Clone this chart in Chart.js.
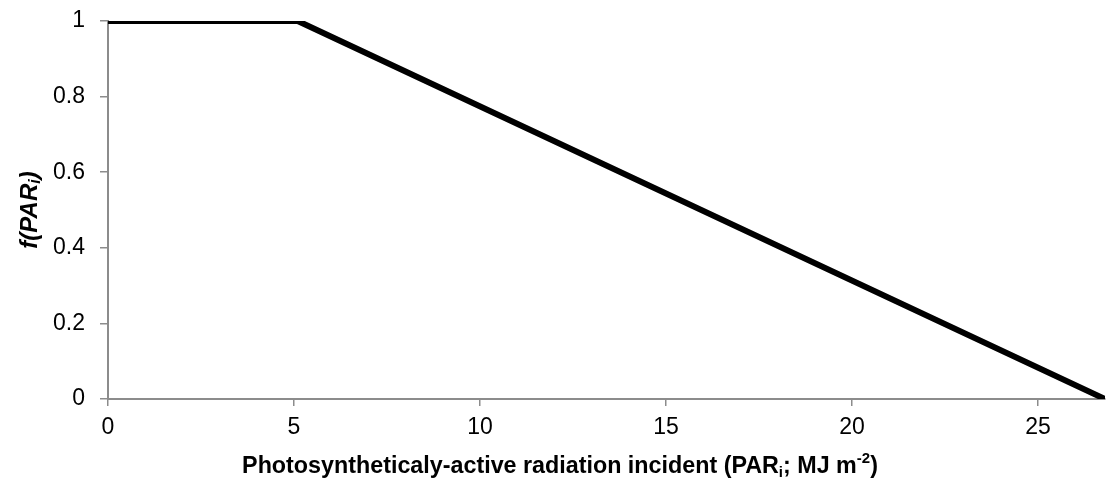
<!DOCTYPE html>
<html lang="en">
<head>
  <meta charset="UTF-8">
  <title>f(PARi) response</title>
  <script src="https://cdn.jsdelivr.net/npm/chart.js"></script>
  <style>
    html, body { margin: 0; padding: 0; background: #fff; }
    #wrap { width: 1108px; height: 488px; }
  </style>
</head>
<body>
  <div id="wrap"><canvas id="parChart" width="1108" height="488"></canvas></div>

  <script>
    // Values.
    const parValues = [0, 5.1, 26.8];   // PARi, MJ m-2
    const fValues = [1, 1, 0];          // f(PARi)
    const xTicks = [0, 5, 10, 15, 20, 25];
    const yTicks = [0, 0.2, 0.4, 0.6, 0.8, 1];

    const FONT = '"Liberation Sans", Arial, sans-serif';
    const axisGrey = '#8c8c8c';

    // Axis titles with sub/superscripts, drawn as text segments.
    const xTitle = [
      { t: 'Photosyntheticaly-active radiation incident (PAR' },
      { t: 'i', sub: true },
      { t: '; MJ m' },
      { t: '-2', sup: true },
      { t: ')' }
    ];
    const yTitle = [
      { t: 'f(PAR', italic: true },
      { t: 'i', sub: true, italic: true },
      { t: ')', italic: true }
    ];

    function segFont(s, size) {
      const sz = (s.sub || s.sup) ? Math.round(size * 0.65) : size;
      return (s.italic ? 'italic ' : '') + 'bold ' + sz + 'px ' + FONT;
    }

    function drawRich(ctx, segs, size) {
      let total = 0;
      segs.forEach(s => { ctx.font = segFont(s, size); total += ctx.measureText(s.t).width; });
      let x = -total / 2;
      segs.forEach(s => {
        ctx.font = segFont(s, size);
        let dy = 0;
        if (s.sub) dy = size * 0.25;
        if (s.sup) dy = -size * 0.35;
        ctx.fillText(s.t, x, dy);
        x += ctx.measureText(s.t).width;
      });
    }

    const titlePlugin = {
      id: 'richTitles',
      afterDraw(chart) {
        const ctx = chart.ctx;
        const area = chart.chartArea;
        ctx.save();
        ctx.fillStyle = '#000';
        ctx.textBaseline = 'middle';
        ctx.textAlign = 'left';
        ctx.save();
        ctx.translate(560, 467);
        drawRich(ctx, xTitle, 23.3);
        ctx.restore();
        ctx.save();
        ctx.translate(30, (area.top + area.bottom) / 2);
        ctx.rotate(-Math.PI / 2);
        drawRich(ctx, yTitle, 24);
        ctx.restore();
        ctx.restore();
      }
    };

    const ctx = document.getElementById('parChart').getContext('2d');
    new Chart(ctx, {
      type: 'line',
      data: {
        datasets: [{
          data: parValues.map((x, i) => ({ x: x, y: fValues[i] })),
          borderColor: '#000',
          borderWidth: 6,
          pointRadius: 0,
          tension: 0,
          fill: false
        }]
      },
      options: {
        responsive: false,
        animation: false,
        layout: { padding: { top: 21, right: 3, left: 0, bottom: 0 } },
        plugins: { legend: { display: false }, tooltip: { enabled: false } },
        scales: {
          x: {
            type: 'linear',
            min: 0,
            max: 26.8,
            afterBuildTicks: scale => { scale.ticks = xTicks.map(v => ({ value: v })); },
            afterFit: scale => {
              scale.height = 89;
              scale.paddingLeft = 0;
              scale.paddingRight = 0;
            },
            grid: { drawOnChartArea: false, drawTicks: true, tickLength: 7, color: axisGrey, lineWidth: 1.5 },
            border: { display: true, color: axisGrey, width: 2 },
            ticks: { color: '#000', font: { family: FONT, size: 23 }, padding: 8, maxRotation: 0 }
          },
          y: {
            min: 0,
            max: 1,
            afterBuildTicks: scale => { scale.ticks = yTicks.map(v => ({ value: v })); },
            afterFit: scale => {
              scale.width = 108;
              scale.paddingTop = 0;
              scale.paddingBottom = 0;
            },
            grid: { drawOnChartArea: false, drawTicks: true, tickLength: 8, color: axisGrey, lineWidth: 1.5 },
            border: { display: true, color: axisGrey, width: 2 },
            ticks: {
              color: '#000',
              font: { family: FONT, size: 23 },
              padding: 15,
              callback: v => String(v)
            }
          }
        }
      },
      plugins: [titlePlugin]
    });
  </script>
</body>
</html>
